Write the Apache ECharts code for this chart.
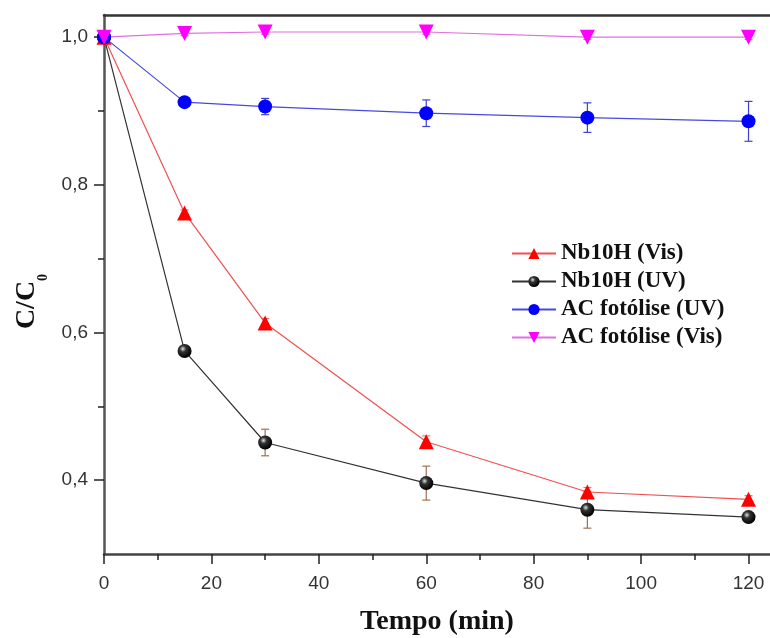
<!DOCTYPE html>
<html>
<head>
<meta charset="utf-8">
<script src="https://cdn.jsdelivr.net/npm/echarts@6/dist/echarts.min.js"></script>
<style>
html, body { margin: 0; padding: 0; background: #fff; overflow: hidden; }
#main { width: 770px; height: 638px; }
</style>
</head>
<body>
<div id="main"></div>
<script>
// tempo (min)
var tempo = [0, 15, 30, 60, 90, 120];

var nbVis = [1.0, 0.762, 0.613, 0.452, 0.384, 0.374];
var nbVisErr = [0, 0.004, 0.006, 0.008, 0.006, 0.005];

var nbUV = [1.0, 0.575, 0.451, 0.396, 0.360, 0.350];
var nbUVErr = [0, 0.004, 0.018, 0.023, 0.025, 0.004];

var acUV = [1.0, 0.912, 0.906, 0.897, 0.891, 0.886];
var acUVErr = [0, 0.003, 0.011, 0.018, 0.020, 0.027];

var acVis = [1.0, 1.005, 1.007, 1.007, 1.0, 1.0];
var acVisErr = [0, 0.003, 0.003, 0.003, 0.003, 0.003];

var xMajor = [0, 20, 40, 60, 80, 100, 120];
var xMinor = [10, 30, 50, 70, 90, 110];
var yMajor = [0.4, 0.6, 0.8, 1.0];
var yMinor = [0.5, 0.7, 0.9];

var nomes = ['Nb10H (Vis)', 'Nb10H (UV)', 'AC fotólise (UV)', 'AC fotólise (Vis)'];

function pares(ys) {
	return tempo.map(function (t, i) { return [t, ys[i]]; });
}
function paresErr(ys, es) {
	return tempo.map(function (t, i) { return [t, ys[i], es[i]]; });
}

// barra de erro desenhada com series custom
function erro(dados, cor) {
	return {
		type: 'custom',
		data: paresErr(dados[0], dados[1]),
		encode: { x: 0, y: 1 },
		z: 1,
		silent: true,
		renderItem: function (params, api) {
			var x = api.value(0), y = api.value(1), e = api.value(2);
			if (!e) return;
			var top = api.coord([x, y + e]);
			var bot = api.coord([x, y - e]);
			var w = 4;
			var st = { stroke: cor, lineWidth: 1.2 };
			return {
				type: 'group',
				children: [
					{ type: 'line', shape: { x1: top[0], y1: top[1], x2: bot[0], y2: bot[1] }, style: st },
					{ type: 'line', shape: { x1: top[0] - w, y1: top[1], x2: top[0] + w, y2: top[1] }, style: st },
					{ type: 'line', shape: { x1: bot[0] - w, y1: bot[1], x2: bot[0] + w, y2: bot[1] }, style: st }
				]
			};
		}
	};
}

function fmt(v) {
	return Number(v).toFixed(1).replace('.', ',');
}

var esfera = {
	type: 'radial', x: 0.38, y: 0.35, r: 0.65,
	colorStops: [
		{ offset: 0, color: '#e0e0e0' },
		{ offset: 0.35, color: '#333' },
		{ offset: 1, color: '#000' }
	]
};

var tickStyle = { color: '#222', width: 1.5 };

var chart = echarts.init(document.getElementById('main'));
var option = {
	backgroundColor: '#fff',
	animation: false,
	grid: {
		left: 104,
		top: 15,
		bottom: 84,
		right: 0,
		outerBoundsMode: 'none'
	},
	legend: {
		data: nomes,
		left: 506,
		top: 237,
		orient: 'vertical',
		itemWidth: 44,
		itemHeight: 14,
		itemGap: 5,
		textStyle: {
			fontFamily: 'Liberation Serif',
			fontWeight: 'bold',
			fontSize: 23,
			color: '#111'
		}
	},
	xAxis: [{
		type: 'value',
		min: 0,
		max: 124,
		position: 'bottom',
		name: 'Tempo (min)',
		nameLocation: 'middle',
		nameGap: 54,
		nameTextStyle: {
			fontFamily: 'Liberation Serif',
			fontWeight: 'bold',
			fontSize: 28,
			color: '#111'
		},
		axisLine: { lineStyle: { color: '#444', width: 2.5 } },
		axisTick: { length: 10, customValues: xMajor, lineStyle: tickStyle },
		splitLine: { show: false },
		axisLabel: {
			customValues: xMajor,
			margin: 20,
			fontFamily: 'Liberation Sans',
			fontSize: 19,
			color: '#333'
		}
	}, {
		type: 'value',
		min: 0,
		max: 124,
		position: 'bottom',
		axisLine: { show: false },
		axisTick: { show: true, length: 6, customValues: xMinor, lineStyle: tickStyle },
		axisLabel: { show: false },
		splitLine: { show: false }
	}, {
		// linha superior do quadro
		type: 'value',
		min: 0,
		max: 124,
		position: 'top',
		axisLine: { show: true, lineStyle: { color: '#333', width: 2.5 } },
		axisTick: { show: false },
		axisLabel: { show: false },
		splitLine: { show: false }
	}],
	yAxis: [{
		type: 'value',
		min: 0.3,
		max: 1.03,
		position: 'left',
		name: 'C/C{s|0}',
		nameLocation: 'middle',
		nameRotate: 90,
		nameGap: 56,
		nameTextStyle: {
			fontFamily: 'Liberation Serif',
			fontWeight: 'bold',
			fontSize: 28,
			color: '#111',
			padding: [0, 34, 0, 0],
			rich: {
				s: { fontFamily: 'Liberation Serif', fontWeight: 'bold', fontSize: 14, verticalAlign: 'bottom', padding: [0, 0, -10, 0] }
			}
		},
		axisLine: { show: true, lineStyle: { color: '#555', width: 2.5 } },
		axisTick: { show: true, length: 10, customValues: yMajor, lineStyle: tickStyle },
		splitLine: { show: false },
		axisLabel: {
			customValues: yMajor,
			margin: 16,
			fontFamily: 'Liberation Sans',
			fontSize: 19,
			color: '#333',
			formatter: fmt
		}
	}, {
		type: 'value',
		min: 0.3,
		max: 1.03,
		position: 'left',
		axisLine: { show: false },
		axisTick: { show: true, length: 6, customValues: yMinor, lineStyle: tickStyle },
		axisLabel: { show: false },
		splitLine: { show: false }
	}],
	series: [
		erro([nbVis, nbVisErr], '#f07070'),
		erro([nbUV, nbUVErr], '#a07050'),
		erro([acUV, acUVErr], '#4040d0'),
		erro([acVis, acVisErr], '#e060e0'),
		{
			name: nomes[0],
			type: 'line',
			data: pares(nbVis),
			symbol: 'triangle',
			symbolSize: 15,
			z: 3,
			lineStyle: { color: '#f05050', width: 1.2 },
			itemStyle: { color: '#ff0000' }
		},
		{
			name: nomes[1],
			type: 'line',
			data: pares(nbUV),
			symbol: 'circle',
			symbolSize: 14,
			z: 3,
			lineStyle: { color: '#333', width: 1.2 },
			itemStyle: { color: esfera }
		},
		{
			name: nomes[2],
			type: 'line',
			data: pares(acUV),
			symbol: 'circle',
			symbolSize: 14,
			z: 3,
			lineStyle: { color: '#4848e0', width: 1.2 },
			itemStyle: { color: '#0000ff' }
		},
		{
			name: nomes[3],
			type: 'line',
			data: pares(acVis),
			symbol: 'triangle',
			symbolRotate: 180,
			symbolSize: 15,
			z: 3,
			lineStyle: { color: '#e070e0', width: 1.2 },
			itemStyle: { color: '#ff00ff' }
		}
	]
};
chart.setOption(option);
</script>
</body>
</html>
